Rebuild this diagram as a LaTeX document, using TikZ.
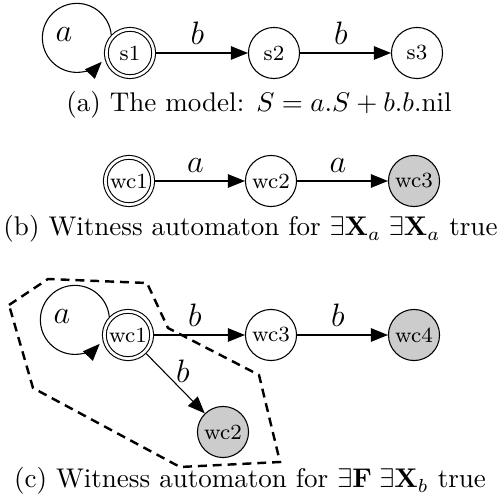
\documentclass[tikz,border=0pt]{standalone}
\usepackage{amsmath,amssymb}
\usepackage{tikz}
\usetikzlibrary{arrows.meta}

\begin{document}
\begin{tikzpicture}[x=0.37pt,y=0.37pt,
  state/.style={circle,draw,inner sep=0pt,minimum size=18.9pt,font=\footnotesize},
  accept/.style={state,double,double distance=1pt,minimum size=17.5pt,outer sep=0.9pt},
  witness/.style={state,fill=black!20},
  move/.style={-{Triangle[length=6.3pt,width=5pt]}},
  lbl/.style={font=\large,inner sep=0pt},
  zone/.style={line width=0.9pt,dash pattern=on 3.3pt off 2.2pt}]
  \useasboundingbox (0,0) rectangle (501,504);
  % ---------- (a): the model ----------
  \node[accept] (s1) at (130,451) {s1};
  \node[state] (s2) at (274,451) {s2};
  \node[state] (s3) at (417,451) {s3};
  \draw[move] (s1.136) arc[start angle=5,end angle=316,radius=34.5];
  \node[lbl] (sa) at (64,469) {$a$};
  \draw[move] (s1) -- node[lbl,above=3pt,pos=0.45] (sb1) {$b$} (s2);
  \draw[move] (s2) -- node[lbl,above=3pt,pos=0.45] (sb2) {$b$} (s3);
  \node[anchor=base] (capa) at (259,392) {(a) The model: $S = a.S + b.b.\mathrm{nil}$};
  % ---------- (b): witness for EX_a EX_a ----------
  \node[accept] (b1) at (129,323) {wc1};
  \node[state] (b2) at (271,323) {wc2};
  \node[witness] (b3) at (414,323) {wc3};
  \draw[move] (b1) -- node[lbl,above=3pt,pos=0.45] (ba1) {$a$} (b2);
  \draw[move] (b2) -- node[lbl,above=3pt,pos=0.45] (ba2) {$a$} (b3);
  \node[anchor=base] (capb) at (250.5,268) {(b) Witness automaton for $\exists\mathbf{X}_a\;\exists\mathbf{X}_a$ true};
  % ---------- (c): witness for EF EX_b ----------
  \draw[zone] (9,199) -- (48,225) -- (147,221) -- (168,176) -- (259,129) -- (280,42) -- (180,37) -- (33,116) -- cycle;
  \node[accept] (c1) at (128,169) {wc1};
  \node[witness] (c2) at (223,72) {wc2};
  \node[state] (c3) at (271,169) {wc3};
  \node[witness] (c4) at (414,169) {wc4};
  \draw[move] (c1.136) arc[start angle=5,end angle=316,radius=34.5];
  \node[lbl] (ca) at (62,187) {$a$};
  \draw[move] (c1) -- node[lbl,above=3pt,pos=0.45] (cb1) {$b$} (c3);
  \draw[move] (c3) -- node[lbl,above=3pt,pos=0.45] (cb2) {$b$} (c4);
  \draw[move] (c1) -- node[lbl,above right=0pt] (cb3) {$b$} (c2);
  \node[anchor=base] (capc) at (250,16) {(c) Witness automaton for $\exists\mathbf{F}\;\exists\mathbf{X}_b$ true};
\end{tikzpicture}
\end{document}
